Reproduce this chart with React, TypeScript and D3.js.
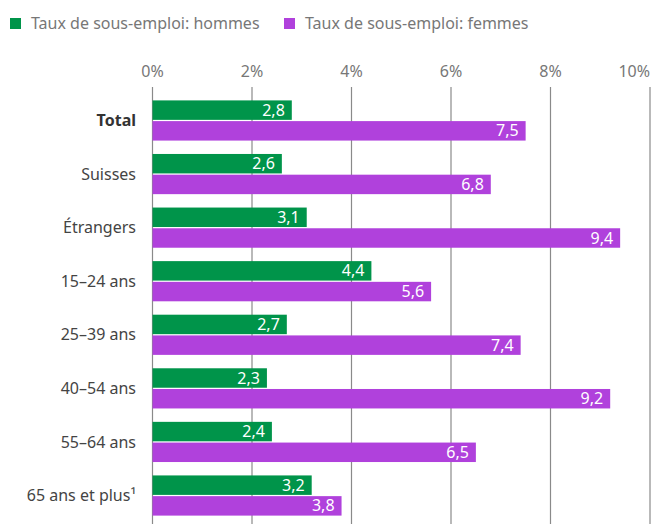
import React from "react";
import * as d3 from "d3";

const categories = [
  "Total",
  "Suisses",
  "Étrangers",
  "15–24 ans",
  "25–39 ans",
  "40–54 ans",
  "55–64 ans",
  "65 ans et plus¹",
];
const seriesNames = ["Taux de sous-emploi: hommes", "Taux de sous-emploi: femmes"];
const hommes = [2.8, 2.6, 3.1, 4.4, 2.7, 2.3, 2.4, 3.2];
const femmes = [7.5, 6.8, 9.4, 5.6, 7.4, 9.2, 6.5, 3.8];
const tickValues = [0, 2, 4, 6, 8, 10];

const colors = ["#00944a", "#b041dc"];
const W = 651;
const H = 524;
const FONT = "'Noto Sans', sans-serif";

export default function App() {
  const x = d3.scaleLinear().domain([0, 10]).range([152.5, 650]);
  const y = d3
    .scaleBand<string>()
    .domain(categories)
    .range([87, 529])
    .paddingInner(0.25)
    .paddingOuter(0.25);
  const sub = d3
    .scaleBand<number>()
    .domain([0, 1])
    .range([0, y.bandwidth()])
    .paddingInner(0.06);
  const series = [hommes, femmes];
  const fmt = (v: number) => d3.format(".1f")(v).replace(".", ",");

  return (
    <svg
      width={W}
      height={H}
      style={{ position: "absolute", left: 0, top: 0, background: "#fff" }}
      fontFamily={FONT}
    >
      {/* legend */}
      <g>
        <rect x={10} y={18} width={11} height={11} fill={colors[0]} />
        <text x={31} y={29} fontSize={16} fill="#777">
          {seriesNames[0]}
        </text>
        <rect x={284} y={18} width={11} height={11} fill={colors[1]} />
        <text x={305} y={29} fontSize={16} fill="#777">
          {seriesNames[1]}
        </text>
      </g>

      {/* grid + ticks */}
      {tickValues.map((t) => (
        <g key={t}>
          <line x1={x(t)} x2={x(t)} y1={87} y2={H} stroke="#8a8a8a" strokeWidth={1.2} />
          <text
            x={x(t)}
            y={77}
            fontSize={16}
            fill="#777"
            textAnchor={t === 10 ? "end" : "middle"}
          >
            {t}%
          </text>
        </g>
      ))}

      {/* bars */}
      {categories.map((c, i) => (
        <g key={c} transform={`translate(0,${y(c)})`}>
          {series.map((s, k) => (
            <g key={k}>
              <rect
                x={x(0)}
                y={sub(k)}
                width={x(s[i]) - x(0)}
                height={sub.bandwidth()}
                fill={colors[k]}
              />
              <text
                x={x(s[i]) - 7}
                y={(sub(k) ?? 0) + sub.bandwidth() / 2}
                dy="0.35em"
                fontSize={16}
                fill="#fff"
                textAnchor="end"
              >
                {fmt(s[i])}
              </text>
            </g>
          ))}
          <text
            x={136}
            y={y.bandwidth() / 2}
            dy="0.35em"
            fontSize={16}
            textAnchor="end"
            fill={i === 0 ? "#333" : "#444"}
            fontWeight={i === 0 ? "bold" : "normal"}
          >
            {c}
          </text>
        </g>
      ))}
    </svg>
  );
}
